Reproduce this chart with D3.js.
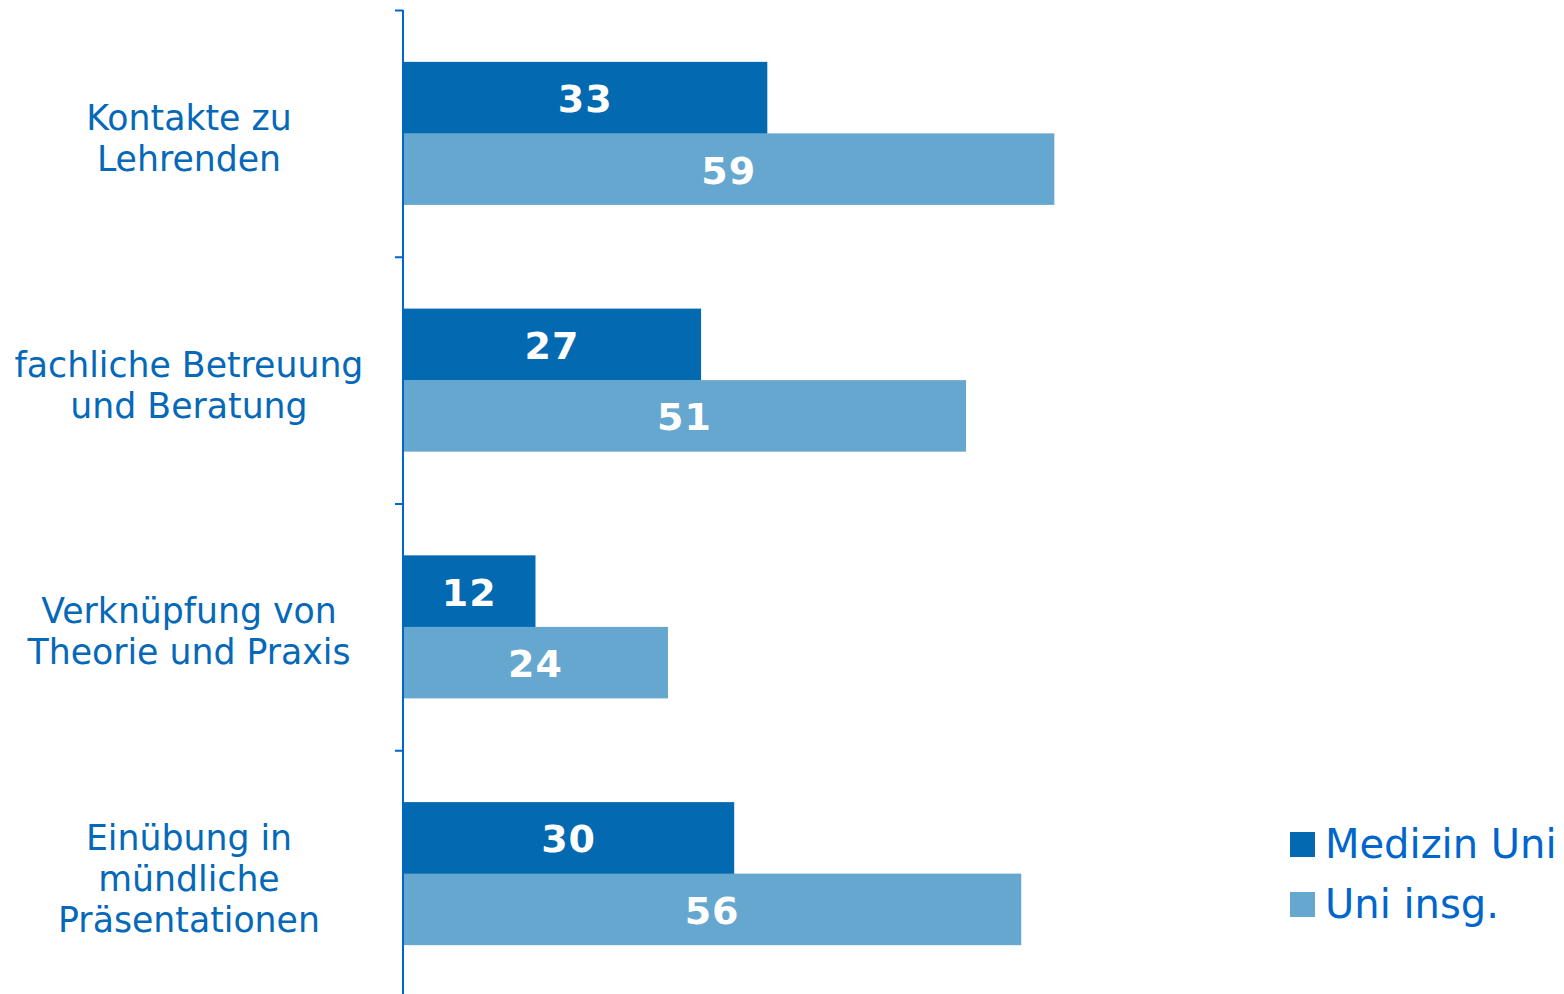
<!DOCTYPE html>
<html><head><meta charset="utf-8">
<script src="https://cdn.jsdelivr.net/npm/d3@7"></script>
<style>body{margin:0;background:#fff}svg{display:block}</style>
</head><body>
<script>
const categories = [
  ["Kontakte zu", "Lehrenden"],
  ["fachliche Betreuung", "und Beratung"],
  ["Verknüpfung von", "Theorie und Praxis"],
  ["Einübung in", "mündliche", "Präsentationen"]
];
const seriesNames = ["Medizin Uni", "Uni insg."];
const medizinUni = [33, 27, 12, 30];
const uniInsg = [59, 51, 24, 56];
const seriesValues = [medizinUni, uniInsg];
const colors = ["#0369B1", "#66A7D0"];

const W = 1564, H = 994;
const svg = d3.select("body").append("svg").attr("width", W).attr("height", H);
const font = "'DejaVu Sans', Verdana, sans-serif";
const catKeys = categories.map((c, i) => i);

const x = d3.scaleLinear().domain([0, 100]).range([403, 1507]);
const y0 = d3.scaleBand().domain(catKeys).range([10, 997]).padding(0);
const y1 = d3.scaleBand().domain(seriesNames).range([0, y0.bandwidth()]).paddingInner(0).paddingOuter(0.725);

const g = svg.append("g");
catKeys.forEach(ci => {
  seriesNames.forEach((s, si) => {
    const v = seriesValues[si][ci];
    const yy = y0(ci) + y1(s);
    g.append("rect").attr("x", x(0)).attr("y", yy)
      .attr("width", x(v) - x(0)).attr("height", y1.bandwidth() + (si === 0 ? 0.5 : 0))
      .attr("fill", colors[si]);
    g.append("text").attr("x", (x(0) + x(v)) / 2).attr("y", yy + y1.bandwidth() / 2)
      .attr("dy", "0.38em").attr("text-anchor", "middle")
      .attr("font-family", font).attr("font-weight", "bold").attr("font-size", 38)
      .attr("letter-spacing", 1)
      .attr("fill", "#fff").text(v);
  });
  const lines = categories[ci];
  const cy = y0(ci) + y0.bandwidth() / 2 + 4.5;
  const lh = 41;
  const t = svg.append("text").attr("text-anchor", "middle")
    .attr("font-family", font).attr("font-size", 34.7).attr("fill", "#0568B8");
  lines.forEach((ln, li) => {
    t.append("tspan").attr("x", 189)
      .attr("y", cy + (li - (lines.length - 1) / 2) * lh)
      .attr("dy", "0.36em").text(ln);
  });
});

// axis
const axis = d3.axisLeft(d3.scaleLinear().domain([0, 1]).range([10, 997]))
  .tickValues(catKeys.map(i => (y0(i) - 10) / (987)))
  .tickSize(8).tickFormat("");
const ax = svg.append("g").attr("transform", `translate(${x(0)},0)`).call(axis);
ax.select(".domain").remove();
ax.selectAll(".tick line").attr("stroke", "#0066CC").attr("stroke-width", 2);
ax.append("line").attr("x1", 0).attr("x2", 0).attr("y1", 10).attr("y2", 997)
  .attr("stroke", "#0066CC").attr("stroke-width", 2);

// legend
const leg = svg.append("g");
seriesNames.forEach((s, i) => {
  const ly = 844.5 + i * 60;
  leg.append("rect").attr("x", 1290).attr("y", ly - 12.5).attr("width", 25).attr("height", 25).attr("fill", colors[i]);
  leg.append("text").attr("x", 1325).attr("y", ly).attr("dy", "0.33em")
    .attr("font-family", font).attr("font-size", 40).attr("fill", "#0066CC").text(s);
});
</script>
</body></html>
